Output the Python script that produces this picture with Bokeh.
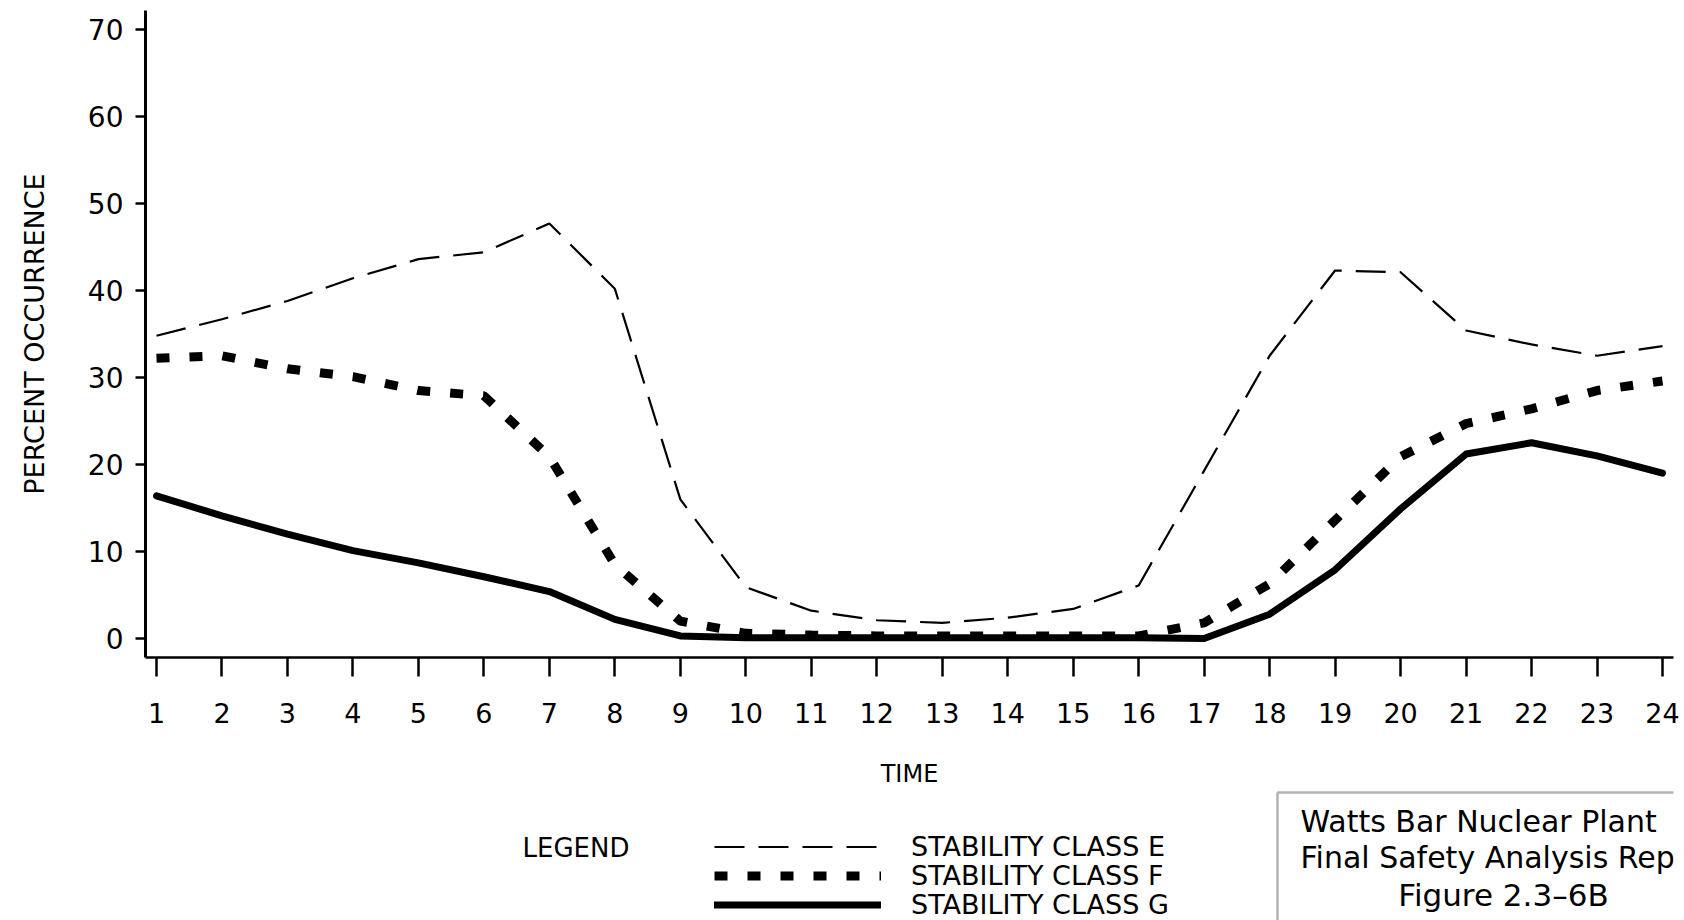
from bokeh.plotting import figure
from bokeh.layouts import column
from bokeh.models import (Range1d, FixedTicker, Legend, LegendItem, Label, BoxAnnotation)
from bokeh.embed import file_html
from bokeh.resources import INLINE

# ---- data ----
hours = list(range(1, 25))
class_e = [34.8, 36.7, 38.8, 41.4, 43.6, 44.4, 47.7, 40.2, 16.0, 5.9, 3.2, 2.1,
           1.8, 2.4, 3.4, 6.1, 19.3, 32.5, 42.3, 42.1, 35.4, 33.8, 32.5, 33.6]
class_f = [32.2, 32.5, 31.0, 30.1, 28.5, 27.9, 20.9, 8.5, 2.0, 0.6, 0.4, 0.3,
           0.3, 0.3, 0.3, 0.3, 1.8, 6.3, 13.6, 20.9, 24.7, 26.4, 28.5, 29.6]
class_g = [16.4, 14.1, 12.0, 10.1, 8.7, 7.1, 5.4, 2.2, 0.3, 0.1, 0.1, 0.1,
           0.1, 0.1, 0.1, 0.1, 0.0, 2.8, 7.9, 14.9, 21.2, 22.5, 21.0, 19.0]
y_ticks = [0, 10, 20, 30, 40, 50, 60, 70]
series_names = ["STABILITY CLASS E", "STABILITY CLASS F", "STABILITY CLASS G"]
box_lines = ["Watts Bar Nuclear Plant", "Final Safety Analysis Report", "Figure 2.3\u20136B"]

FONT = "DejaVu Sans"
W = 1680
H1 = 790
H2 = 130
FRAME_L = 145  # frame left edge (shared by both stacked figures)

E_STYLE = dict(line_color="black", line_width=2.2, line_dash="30 14")
F_STYLE = dict(line_color="black", line_width=9, line_dash="13 20", line_cap="butt")
G_STYLE = dict(line_color="black", line_width=7, line_join="round", line_cap="round")

# ---------------- main chart ----------------
p = figure(width=W, height=H1, output_backend="svg", toolbar_location=None,
           x_range=Range1d(0.832, 24.168), y_range=Range1d(-2.18, 72.18),
           min_border_left=FRAME_L, min_border_right=W - 1673, min_border_top=10,
           min_border_bottom=H1 - 657)
p.outline_line_color = None
p.grid.visible = False

xa = p.xaxis[0]
xa.ticker = FixedTicker(ticks=hours)
xa.minor_tick_line_color = None
xa.major_tick_in = 0
xa.major_tick_out = 19
xa.major_tick_line_width = 2.5
xa.axis_line_width = 2.5
xa.axis_line_color = "black"
xa.major_tick_line_color = "black"
xa.major_label_text_font = FONT
xa.major_label_text_font_size = "27px"
xa.major_label_text_color = "black"
xa.major_label_standoff = 26
xa.axis_label = "TIME"
xa.axis_label_text_font = FONT
xa.axis_label_text_font_style = "normal"
xa.axis_label_text_font_size = "24px"
xa.axis_label_text_color = "black"
xa.axis_label_standoff = 34

ya = p.yaxis[0]
ya.ticker = FixedTicker(ticks=y_ticks)
ya.minor_tick_line_color = None
ya.major_tick_in = 0
ya.major_tick_out = 10
ya.major_tick_line_width = 2.5
ya.axis_line_width = 3
ya.axis_line_color = "black"
ya.major_tick_line_color = "black"
ya.major_label_text_font = FONT
ya.major_label_text_font_size = "28px"
ya.major_label_text_color = "black"
ya.major_label_standoff = 12
ya.axis_label = "PERCENT OCCURRENCE"
ya.axis_label_text_font = FONT
ya.axis_label_text_font_style = "normal"
ya.axis_label_text_font_size = "27px"
ya.axis_label_text_color = "black"
ya.axis_label_standoff = 35

p.line(hours, class_e, **E_STYLE)
p.line(hours, class_f, **F_STYLE)
p.line(hours, class_g, **G_STYLE)

# ---------------- legend / title block strip ----------------
p2 = figure(width=W, height=H2, output_backend="svg", toolbar_location=None,
            x_range=Range1d(0, 1), y_range=Range1d(0, 1),
            x_axis_type=None, y_axis_type=None,
            min_border_left=FRAME_L, min_border_right=W - 1673,
            min_border_top=0, min_border_bottom=0)
p2.outline_line_color = None
p2.grid.visible = False

nan = float("nan")
keys = [p2.line(x=[nan], y=[nan], **E_STYLE),
        p2.line(x=[nan], y=[nan], **F_STYLE),
        p2.line(x=[nan], y=[nan], **G_STYLE)]

row_offsets = [58, 29, 0]  # one legend row each, stacked
for name, r, off in zip(series_names, keys, row_offsets):
    lg = Legend(items=[LegendItem(label=name, renderers=[r])],
                location=(714 - FRAME_L, off), orientation="vertical",
                glyph_width=167, glyph_height=29, label_height=29, spacing=0,
                padding=0, margin=0, label_standoff=30,
                label_text_font=FONT, label_text_font_size="27px",
                label_text_color="black", border_line_color=None,
                background_fill_alpha=0)
    p2.add_layout(lg, "center")

p2.add_layout(Label(x=522 - FRAME_L, y=73, x_units="screen", y_units="screen", text="LEGEND",
                    text_font=FONT, text_font_size="26px", text_color="black",
                    text_baseline="middle", text_align="left"))

p2.add_layout(BoxAnnotation(left=1277 - FRAME_L, right=1800, top=128, bottom=-100,
                            left_units="screen", right_units="screen",
                            top_units="screen", bottom_units="screen",
                            fill_alpha=0, line_color="black", line_width=2.5))
p2.add_layout(Label(x=1300 - FRAME_L, y=99, x_units="screen", y_units="screen", text=box_lines[0],
                    text_font=FONT, text_font_size="30px", text_color="black",
                    text_baseline="middle", text_align="left"))
p2.add_layout(Label(x=1300 - FRAME_L, y=63, x_units="screen", y_units="screen", text=box_lines[1],
                    text_font=FONT, text_font_size="30px", text_color="black",
                    text_baseline="middle", text_align="left"))
p2.add_layout(Label(x=1503 - FRAME_L, y=26, x_units="screen", y_units="screen", text=box_lines[2],
                    text_font=FONT, text_font_size="31px", text_color="black",
                    text_baseline="middle", text_align="center"))

layout = column(p, p2, spacing=0)
open("out.html", "w").write(file_html(layout, INLINE))
